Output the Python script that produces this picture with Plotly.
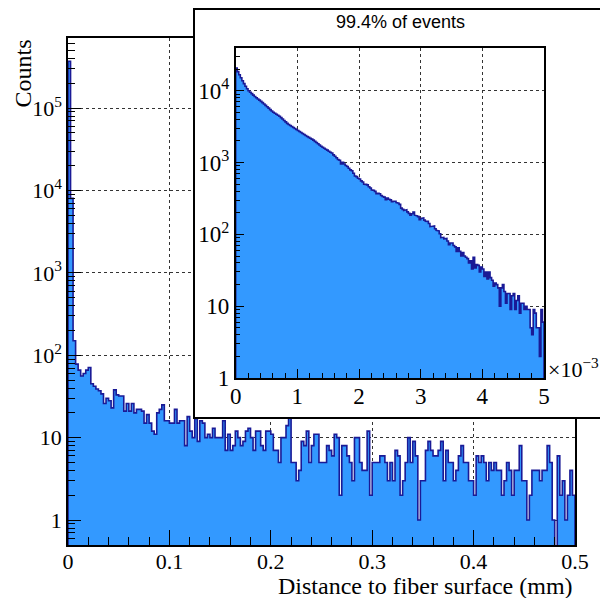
import plotly.graph_objects as go

# ---------------- data ----------------
# Main histogram: 200 bins from 0 to 0.5 mm
main_range = [0.0, 0.5]
main_counts = [
    370000, 8000, 150, 78, 66, 56, 60, 66, 71, 45,
    42, 39, 37, 34, 26, 30, 28, 23, 38, 33,
    32, 32, 21, 26, 21, 26, 20, 22, 22, 21,
    15, 19, 15, 12, 11, 20, 22, 25, 16, 16,
    15, 15, 22, 15, 16, 16, 8, 18, 12, 10,
    17, 9, 16, 15, 10, 11, 10, 13, 10, 10,
    10, 16, 7, 11, 7, 8, 12, 10, 8, 9,
    12, 13, 10, 7, 12, 12, 8, 7, 12, 12,
    11, 7, 7, 5, 10, 10, 14, 18, 5, 5,
    3, 4, 9, 8, 12, 5, 8, 11, 11, 5,
    5, 5, 8, 7, 6, 11, 10, 2, 8, 8,
    6, 5, 3, 10, 10, 5, 4, 4, 12, 2,
    5, 5, 5, 6, 6, 5, 3, 5, 3, 7,
    6, 2, 3, 5, 10, 5, 9, 6, 1, 3,
    3, 7, 9, 7, 6, 6, 7, 9, 3, 7,
    5, 5, 3, 4, 6, 8, 5, 5, 3, 3,
    2, 6, 5, 6, 5, 3, 5, 4, 5, 4,
    4, 2, 3, 5, 4, 2, 4, 4, 8, 3,
    3, 1, 2, 4, 4, 4, 3, 4, 4, 8,
    5, 1, 0, 6, 2, 3, 1, 2, 4, 2,
]

# Inset histogram: 200 bins from 0 to 5e-3 mm
inset_range = [0.0, 0.005]
inset_counts = [
    20700, 18500, 16700, 15200, 13800, 12600, 11550, 10650, 10000, 9550,
    9120, 8710, 8340, 8010, 7700, 7400, 7110, 6840, 6550, 6270,
    5990, 5730, 5470, 5240, 5030, 4870, 4710, 4560, 4410, 4230,
    4040, 3860, 3690, 3520, 3390, 3280, 3180, 3080, 2985, 2890,
    2800, 2710, 2625, 2540, 2460, 2380, 2310, 2245, 2180, 2120,
    2055, 1975, 1900, 1830, 1760, 1690, 1635, 1585, 1535, 1490,
    1440, 1395, 1360, 1280, 1225, 1170, 1105, 1080, 955, 1010,
    955, 912, 880, 832, 791, 770, 711, 650, 638, 605,
    590, 556, 536, 500, 497, 490, 460, 443, 415, 411,
    397, 370, 372, 368, 348, 337, 330, 305, 320, 309,
    302, 285, 290, 290, 277, 272, 262, 232, 223, 215,
    220, 206, 196, 185, 194, 205, 185, 181, 177, 160,
    167, 170, 158, 153, 152, 142, 128, 130, 131, 120,
    114, 112, 102, 90, 91, 87, 88, 81, 72, 76,
    76, 70, 67, 58, 65, 58, 50, 56, 50, 48,
    46, 40, 43, 33, 48, 34, 38, 37, 30, 35,
    33, 26, 30, 24, 30, 25, 23, 19, 21, 20,
    18, 10, 18, 20, 16, 11, 15, 15, 9, 14,
    15, 9, 12, 14, 8, 11, 11, 9, 10, 9,
    9, 5, 4, 9, 8, 5, 5, 2, 9, 6,
]

main_xticks = [0, 0.1, 0.2, 0.3, 0.4, 0.5]
main_xticklabels = ["0", "0.1", "0.2", "0.3", "0.4", "0.5"]
main_yticks = [1, 10, 100, 1000, 10000, 100000]
main_yticklabels = ["1", "10", "10<sup>2</sup>", "10<sup>3</sup>", "10<sup>4</sup>", "10<sup>5</sup>"]
inset_xticks = [0, 0.001, 0.002, 0.003, 0.004, 0.005]
inset_xticklabels = ["0", "1", "2", "3", "4", "5"]
inset_yticks = [1, 10, 100, 1000, 10000]
inset_yticklabels = ["1", "10", "10<sup>2</sup>", "10<sup>3</sup>", "10<sup>4</sup>"]

x_title = "Distance to fiber surface (mm)"
y_title = "Counts"
inset_title = "99.4% of events"

# ---------------- helpers ----------------
# The page body has an 8px margin, so the figure is made 8px smaller and
# every window-pixel position is shifted by that offset.
OFF = 8
FW, FH = 600, 590
def fx(px):
    return min(max((px - OFF) / FW, 0.0), 1.0)
def fy(py):
    return min(max(1 - (py - OFF) / FH, 0.0), 1.0)

FLOOR = 1e-3

def step_polygon(counts, rng):
    n = len(counts)
    w = (rng[1] - rng[0]) / n
    xs, ys = [rng[0]], [FLOOR]
    for i, c in enumerate(counts):
        v = c if c > 0 else FLOOR
        xs += [rng[0] + i * w, rng[0] + (i + 1) * w]
        ys += [v, v]
    xs.append(rng[1]); ys.append(FLOOR)
    return xs, ys

def minor_log(lo_dec, hi_dec, lo, hi):
    out = []
    for d in range(lo_dec, hi_dec + 1):
        for m in range(2, 10):
            v = m * 10 ** d
            if lo < v < hi:
                out.append(v)
    return out

FILL = "#3399ff"
EDGE = "#1a1a96"
SERIF = "Liberation Serif"
SANS = "Liberation Sans"

fig = go.Figure()

mx, my = step_polygon(main_counts, main_range)
fig.add_trace(go.Scatter(x=mx, y=my, mode="lines", fill="toself", fillcolor=FILL,
                         line=dict(color=EDGE, width=1.6), xaxis="x", yaxis="y",
                         hoverinfo="skip"))
ix, iy = step_polygon(inset_counts, inset_range)
fig.add_trace(go.Scatter(x=ix, y=iy, mode="lines", fill="toself", fillcolor=FILL,
                         line=dict(color=EDGE, width=1.6), xaxis="x3", yaxis="y3",
                         hoverinfo="skip"))
# invisible trace to create the frame subplot
fig.add_trace(go.Scatter(x=[0.5], y=[0.5], mode="markers", marker=dict(opacity=0),
                         xaxis="x2", yaxis="y2", hoverinfo="skip"))

grid = dict(showgrid=True, gridcolor="#333333", griddash="dot", gridwidth=1)
axline = dict(showline=True, linecolor="black", linewidth=1.5, mirror=True, zeroline=False)

fig.update_layout(
    width=FW, height=FH,
    margin=dict(l=0, r=0, t=0, b=0, pad=0, autoexpand=False),
    paper_bgcolor="white", plot_bgcolor="white",
    showlegend=False,
    xaxis=dict(domain=[fx(68), fx(575)], range=main_range, anchor="y", automargin=False,
               tickmode="array", tickvals=main_xticks, ticktext=main_xticklabels,
               ticks="inside", ticklen=15, tickwidth=1, tickcolor="black",
               ticklabelstandoff=-4,
               minor=dict(tickvals=[i * 0.02 for i in range(1, 25)], ticks="inside",
                          ticklen=8, tickcolor="black", showgrid=False),
               tickfont=dict(family=SERIF, size=22, color="black"),
               **grid, **axline),
    yaxis=dict(domain=[fy(545), fy(38)], type="log", range=[-0.303, 5.85], anchor="x",
               automargin=False,
               tickmode="array", tickvals=main_yticks, ticktext=main_yticklabels,
               ticks="inside", ticklen=13, tickwidth=1, tickcolor="black",
               minor=dict(tickvals=minor_log(-1, 5, 0.5, 7e5), ticks="inside", ticklen=7,
                          tickcolor="black", showgrid=False),
               tickfont=dict(family=SERIF, size=22, color="black"),
               **grid, **axline),
    xaxis2=dict(domain=[fx(194.5), fx(604)], range=[0, 1], anchor="y2", automargin=False,
                showticklabels=False, ticks="", showgrid=False, zeroline=False,
                showline=True, linecolor="black", linewidth=2, mirror=True),
    yaxis2=dict(domain=[fy(417), fy(9.5)], range=[0, 1], anchor="x2", automargin=False,
                showticklabels=False, ticks="", showgrid=False, zeroline=False,
                showline=True, linecolor="black", linewidth=2, mirror=True),
    xaxis3=dict(domain=[fx(235.7), fx(544)], range=inset_range, anchor="y3", automargin=False,
                tickmode="array", tickvals=inset_xticks, ticktext=inset_xticklabels,
                ticks="inside", ticklen=9, tickwidth=1, tickcolor="black",
                ticklabelstandoff=-3,
                minor=dict(tickvals=[i * 0.0002 for i in range(1, 25)], ticks="inside",
                           ticklen=5, tickcolor="black", showgrid=False),
                tickfont=dict(family=SERIF, size=23, color="black"),
                **grid, **axline),
    yaxis3=dict(domain=[fy(378), fy(47.7)], type="log", range=[0, 4.6], anchor="x3",
                automargin=False,
                tickmode="array", tickvals=inset_yticks, ticktext=inset_yticklabels,
                ticks="inside", ticklen=9, tickwidth=1, tickcolor="black",
                minor=dict(tickvals=minor_log(0, 4, 1, 4e4), ticks="inside", ticklen=5,
                           tickcolor="black", showgrid=False),
                tickfont=dict(family=SERIF, size=23, color="black"),
                **grid, **axline),
    shapes=[dict(type="rect", xref="x2", yref="y2", x0=0, x1=1, y0=0, y1=1,
                 layer="below", fillcolor="white", line=dict(width=0))],
    annotations=[
        dict(text=y_title, x=fx(22.5), y=fy(38), xref="paper", yref="paper",
             textangle=-90, xanchor="center", yanchor="top", showarrow=False,
             font=dict(family=SERIF, size=24, color="black")),
        dict(text=x_title, x=fx(575), y=fy(586), xref="paper", yref="paper",
             xanchor="right", yanchor="middle", showarrow=False,
             font=dict(family=SERIF, size=24, color="black")),
        dict(text=inset_title, x=fx(400), y=fy(22), xref="paper", yref="paper",
             xanchor="center", yanchor="middle", showarrow=False,
             font=dict(family=SANS, size=18, color="black")),
        dict(text="\u00d710<sup>\u22123</sup>", x=fx(546), y=fy(368), xref="paper", yref="paper",
             xanchor="left", yanchor="middle", showarrow=False,
             font=dict(family=SERIF, size=22, color="black")),
    ],
)

fig.write_html("out.html")
